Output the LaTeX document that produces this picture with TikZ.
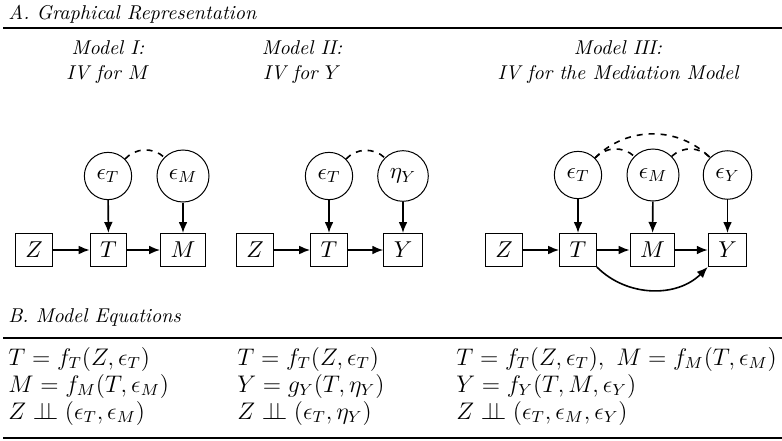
\RequirePackage{fix-cm}
\documentclass[tikz,border=0pt]{standalone}
\usetikzlibrary{arrows.meta}
\tikzset{
  var/.style={draw, line width=0.5pt, minimum height=16.5pt, inner xsep=5pt, inner ysep=2pt, font=\fontsize{11.5}{14}\selectfont},
  err/.style={draw, circle, line width=0.5pt, inner sep=3.8pt, font=\fontsize{11.5}{14}\selectfont},
  arr/.style={-{Latex[length=5.5pt,width=4.4pt]}, line width=0.8pt},
  corr/.style={dashed, line width=0.8pt},
  lab/.style={anchor=base, inner sep=0pt, font=\fontsize{10}{12}\selectfont\itshape},
  ttl/.style={anchor=base west, inner sep=0pt, font=\fontsize{10}{12}\selectfont\itshape},
  eq/.style={anchor=base west, inner sep=0pt, font=\fontsize{12}{14}\selectfont},
  rulestyle/.style={line width=0.9pt}
}
\newcommand{\indep}{\mathrel{\perp\!\!\!\perp}}
\begin{document}
\begin{tikzpicture}[x=0.5pt,y=-0.5pt]
\useasboundingbox (0,0) rectangle (782,440);
% titles and rules
\node[ttl] (ta) at (8,19) {A. Graphical Representation};
\coordinate (r1a) at (3,28); \coordinate (r1b) at (782,28);
\draw[rulestyle] (r1a) -- (r1b);
\node[lab] (m1a) at (108,54) {Model I:};
\node[lab] (m1b) at (108,79) {IV for $M$};
\node[lab] (m2a) at (302,54) {Model II:};
\node[lab] (m2b) at (302,79) {IV for $Y$};
\node[lab] (m3a) at (618,54) {Model III:};
\node[lab] (m3b) at (618,79) {IV for the Mediation Model};
% Model I
\node[var] (z1) at (34,250) {$Z$};
\node[var] (t1) at (108.5,250) {$T$};
\node[var] (m1) at (183,250) {$M$};
\node[err] (et1) at (108,176) {$\epsilon_T$};
\node[err] (em1) at (183,176) {$\epsilon_M$};
\draw[arr] (z1) -- (t1);
\draw[arr] (t1) -- (m1);
\draw[arr] (et1) -- (t1);
\draw[arr] (em1) -- (m1);
\draw[corr] (et1.45) to[bend left=45] (em1.135);
% Model II
\node[var] (z2) at (255,250) {$Z$};
\node[var] (t2) at (329,250) {$T$};
\node[var] (y2) at (403,250) {$Y$};
\node[err] (et2) at (329,176) {$\epsilon_T$};
\node[err] (ey2) at (403,176) {$\eta_Y$};
\draw[arr] (z2) -- (t2);
\draw[arr] (t2) -- (y2);
\draw[arr] (et2) -- (t2);
\draw[arr] (ey2) -- (y2);
\draw[corr] (et2.45) to[bend left=45] (ey2.135);
% Model III
\node[var] (z3) at (504,250) {$Z$};
\node[var] (t3) at (578,250) {$T$};
\node[var] (m3) at (652.5,250) {$M$};
\node[var] (y3) at (727.5,250) {$Y$};
\node[err] (et3) at (578,175) {$\epsilon_T$};
\node[err] (em3) at (653,175) {$\epsilon_M$};
\node[err] (ey3) at (727.5,175) {$\epsilon_Y$};
\draw[arr] (z3) -- (t3);
\draw[arr] (t3) -- (m3);
\draw[arr] (m3) -- (y3);
\draw[arr] (et3) -- (t3);
\draw[arr] (em3) -- (m3);
\draw[arr] (ey3) -- (y3);
\draw[arr] (t3.south east) to[bend right=45] (y3.south west);
\draw[corr] (et3.45) to[bend left=45] (em3.135);
\draw[corr] (em3.45) to[bend left=45] (ey3.135);
\draw[corr] (et3.45) to[bend left=45] (ey3.135);
% Section B
\node[ttl] (tb) at (8,322) {B. Model Equations};
\coordinate (r2a) at (3,338); \coordinate (r2b) at (782,338);
\draw[rulestyle] (r2a) -- (r2b);
\node[eq] (e11) at (8,365) {$T = f_T(Z,\epsilon_T)$};
\node[eq] (e12) at (8,392) {$M = f_M(T,\epsilon_M)$};
\node[eq] (e13) at (8,419) {$Z \indep (\epsilon_T,\epsilon_M)$};
\node[eq] (e21) at (237,365) {$T = f_T(Z,\epsilon_T)$};
\node[eq] (e22) at (237,392) {$Y = g_Y(T,\eta_Y)$};
\node[eq] (e23) at (237,419) {$Z \indep (\epsilon_T,\eta_Y)$};
\node[eq] (e31) at (456,365) {$T = f_T(Z,\epsilon_T),\ M = f_M(T,\epsilon_M)$};
\node[eq] (e32) at (456,392) {$Y = f_Y(T,M,\epsilon_Y)$};
\node[eq] (e33) at (456,419) {$Z \indep (\epsilon_T,\epsilon_M,\epsilon_Y)$};
\coordinate (r3a) at (3,438); \coordinate (r3b) at (782,438);
\draw[rulestyle] (r3a) -- (r3b);
\end{tikzpicture}
\end{document}
